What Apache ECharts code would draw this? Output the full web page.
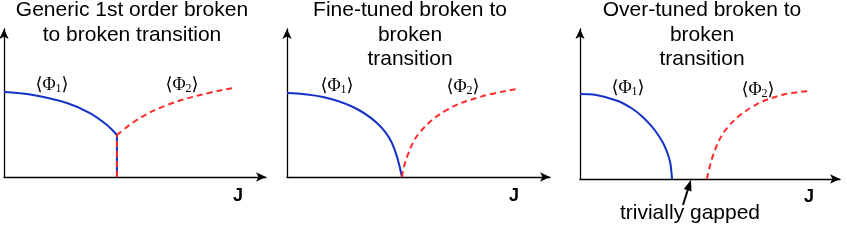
<!DOCTYPE html>
<html>
<head>
<meta charset="utf-8">
<script src="https://cdn.jsdelivr.net/npm/echarts@6/dist/echarts.min.js"></script>
<style>
html,body{margin:0;padding:0;background:#fff;}
#c{width:847px;height:241px;}
</style>
</head>
<body>
<div id="c"></div>
<script>
// ---- data (arbitrary schematic units: J on x 0..10, order parameter on y 0..10) ----
const titles = [
  'Generic 1st order broken\nto broken transition',
  'Fine-tuned broken to\nbroken\ntransition',
  'Over-tuned broken to\nbroken\ntransition'
];
const axisName = 'J';
const phi1Label = '1';
const phi2Label = '2';
const gapText = 'trivially gapped';

// Panel 1: generic first-order
const p1Phi1 = [[0,5.74],[1.11,5.54],[2.40,5.00],[3.28,4.32],[3.93,3.51],[4.31,2.84]];
const p1Jump = [[4.31,2.84],[4.31,0]];
const p1Phi2 = [[4.31,2.84],[5.19,3.99],[6.22,4.86],[7.48,5.54],[8.74,6.01]];
// Panel 2: fine-tuned
const p2Phi1 = [[0,5.68],[1.37,5.41],[2.51,4.73],[3.42,3.65],[3.99,2.30],[4.37,0]];
const p2Phi2 = [[4.37,0],[4.56,1.35],[5.06,3.04],[6.08,4.53],[7.34,5.41],[8.75,5.95]];
// Panel 3: over-tuned
const p3Phi1 = [[0,5.67],[0.58,5.62],[1.46,5.20],[2.00,4.70],[2.38,4.18],[2.75,3.52],[3.00,2.95],[3.22,2.32],[3.38,1.65],[3.48,1.00],[3.54,0]];
const p3Phi2 = [[4.88,0],[5.19,1.93],[5.69,3.47],[6.62,4.80],[7.77,5.60],[8.85,5.87]];
const gapArrow = [[3.96,-1.73,4.27,-0.05]];

// ---- styling / layout ----
const BLUE = '#1432c8';
const RED = '#ff2b2b';
const grids = [
  {left:4, top:29, width:262, height:148},
  {left:287, top:29, width:263, height:148},
  {left:580, top:29, width:260, height:150}
];
const titleCenters = [132, 410, 702];
const phiPos = [
  [[52,85],[182,85]],
  [[337,86],[463,87]],
  [[628,88],[758,90]]
];
const jPos = [[238,196],[514,196],[809,197]];

const axisLine = {show:true, symbol:['none','arrow'], symbolSize:[7,10], lineStyle:{color:'#000', width:1.3}};
const xAxes = grids.map((g,i)=>({type:'value', gridIndex:i, min:0, max:10, axisLine:axisLine, axisTick:{show:false}, axisLabel:{show:false}, splitLine:{show:false}}));
const yAxes = grids.map((g,i)=>({type:'value', gridIndex:i, min:0, max:10, axisLine:axisLine, axisTick:{show:false}, axisLabel:{show:false}, splitLine:{show:false}}));

function solid(data, i, smooth){
  return {type:'line', xAxisIndex:i, yAxisIndex:i, data:data, smooth:smooth, showSymbol:false, symbol:'none', silent:true,
    lineStyle:{color:BLUE, width:2}, z:2};
}
function dashed(data, i, smooth){
  return {type:'line', xAxisIndex:i, yAxisIndex:i, data:data, smooth:smooth, showSymbol:false, symbol:'none', silent:true,
    lineStyle:{color:RED, width:2, type:[6,4]}, z:3};
}
const series = [
  solid(p1Phi1,0,0.4), solid(p1Jump,0,false), dashed(p1Jump.slice().reverse(),0,false), dashed(p1Phi2,0,0.4),
  solid(p2Phi1,1,0.4), dashed(p2Phi2,1,0.4),
  solid(p3Phi1,2,0.3), dashed(p3Phi2,2,0.4),
  {type:'custom', xAxisIndex:2, yAxisIndex:2, data:gapArrow, clip:false, silent:true, z:5,
   renderItem:function(params, api){
     const a = api.coord([api.value(0), api.value(1)]);
     const b = api.coord([api.value(2), api.value(3)]);
     const dx = b[0]-a[0], dy = b[1]-a[1];
     const L = Math.sqrt(dx*dx+dy*dy);
     const ux = dx/L, uy = dy/L;
     const hl = 11, hw = 4;
     const bx = b[0]-ux*hl, by = b[1]-uy*hl;
     return {type:'group', children:[
       {type:'line', shape:{x1:a[0], y1:a[1], x2:bx, y2:by}, style:{stroke:'#000', lineWidth:2}},
       {type:'polygon', shape:{points:[[b[0],b[1]],[bx-uy*hw,by+ux*hw],[bx+uy*hw,by-ux*hw]]}, style:{fill:'#000'}}
     ]};
   }}
];

const graphic = [];
titles.forEach((t,i)=>{
  graphic.push({type:'text', x:titleCenters[i], y:-2, silent:true,
    style:{text:t, fill:'#000', font:'21px "Liberation Sans", Arial, sans-serif', textAlign:'center', textVerticalAlign:'top', lineHeight:24.5}});
});
const phiRich = {
  a:{fontSize:18, fontFamily:'"Liberation Serif","DejaVu Serif",serif', color:'#000', lineHeight:20, verticalAlign:'middle'},
  s:{fontSize:12, fontFamily:'"Liberation Serif","DejaVu Serif",serif', color:'#000', lineHeight:12, verticalAlign:'bottom'}
};
phiPos.forEach((pp)=>{
  [phi1Label, phi2Label].forEach((lab,k)=>{
    graphic.push({type:'text', x:pp[k][0], y:pp[k][1], silent:true,
      style:{text:'{a|\u27E8\u03A6}{s|'+lab+'}{a|\u27E9}', rich:phiRich, textAlign:'center', textVerticalAlign:'middle'}});
  });
});
jPos.forEach((p)=>{
  graphic.push({type:'text', x:p[0], y:p[1], silent:true,
    style:{text:axisName, fill:'#000', font:'bold 18px "Liberation Sans", Arial, sans-serif', textAlign:'center', textVerticalAlign:'middle'}});
});
graphic.push({type:'text', x:690, y:213, silent:true,
  style:{text:gapText, fill:'#000', font:'21px "Liberation Sans", Arial, sans-serif', textAlign:'center', textVerticalAlign:'middle'}});

const chart = echarts.init(document.getElementById('c'), null, {renderer:'canvas'});
chart.setOption({
  animation:false,
  backgroundColor:'#fff',
  grid:grids,
  xAxis:xAxes,
  yAxis:yAxes,
  series:series,
  graphic:graphic
});
</script>
</body>
</html>
